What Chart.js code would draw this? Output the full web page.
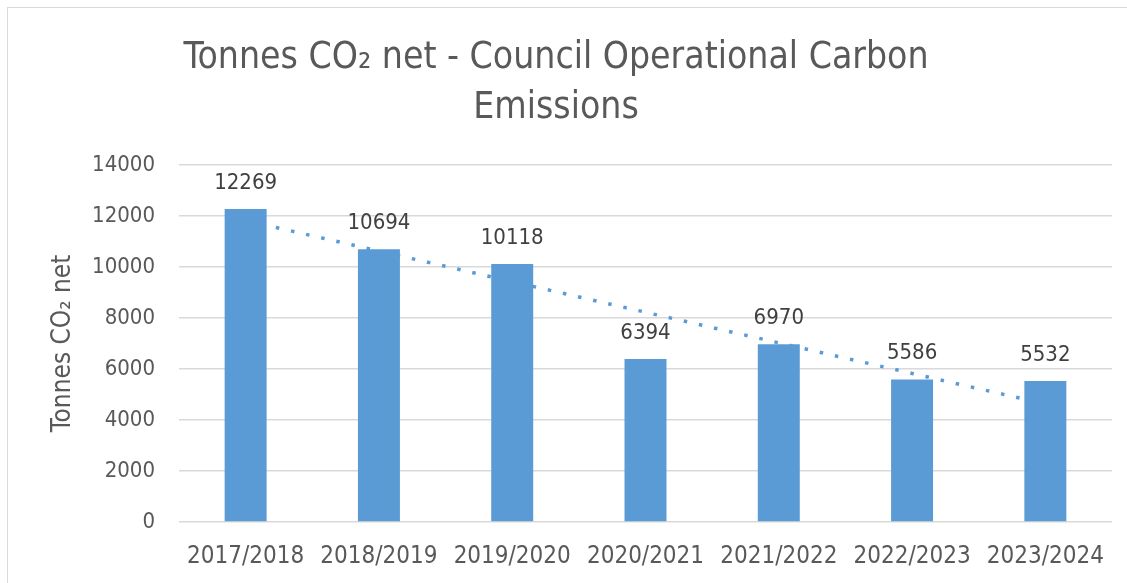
<!DOCTYPE html>
<html>
<head>
<meta charset="utf-8">
<script src="https://cdn.jsdelivr.net/npm/chart.js@4/dist/chart.umd.min.js"></script>
<style>
  html, body { margin: 0; padding: 0; background: #fff; }
  #wrap { position: relative; width: 1127px; height: 583px; }
  #frame { position: absolute; left: 7px; top: 7px; right: -2px; bottom: -2px; border: 1px solid #d9d9d9; }
  canvas { position: absolute; left: 0; top: 0; }
</style>
</head>
<body>
<div id="wrap">
  <div id="frame"></div>
  <canvas id="emissionsChart" width="1127" height="583"></canvas>
</div>
<script>
const FONT = '"DejaVu Sans Condensed", "Liberation Sans Narrow", "DejaVu Sans", sans-serif';

const years = ['2017/2018', '2018/2019', '2019/2020', '2020/2021', '2021/2022', '2022/2023', '2023/2024'];
const tonnes = [12269, 10694, 10118, 6394, 6970, 5586, 5532];
// dotted trend line
const trend = [11820, 10622, 9423, 8223, 7024, 5825, 4626];
const yTicks = [0, 2000, 4000, 6000, 8000, 10000, 12000, 14000];

// draws the value above each bar
const barValues = {
    id: 'barValues',
    afterDatasetsDraw(chart) {
        const ctx = chart.ctx;
        const meta = chart.getDatasetMeta(0);
        ctx.save();
        ctx.font = '22px ' + FONT;
        ctx.fillStyle = '#404040';
        ctx.textAlign = 'center';
        ctx.textBaseline = 'middle';
        meta.data.forEach(function(bar, i) {
            ctx.fillText(String(tonnes[i]), bar.x, bar.y - 26);
        });
        ctx.restore();
    }
};

new Chart(document.getElementById('emissionsChart'), {
    data: {
        labels: years,
        datasets: [{
            type: 'bar',
            label: 'Tonnes CO₂ net',
            data: tonnes,
            backgroundColor: '#5b9bd5',
            borderWidth: 0,
            categoryPercentage: 1,
            barPercentage: 0.315,
            order: 1
        }, {
            type: 'line',
            label: 'Trend',
            data: trend,
            borderColor: '#5b9bd5',
            borderWidth: 3.5,
            borderDash: [3.5, 12],
            borderCapStyle: 'butt',
            pointRadius: 0,
            fill: false,
            tension: 0,
            order: 2
        }]
    },
    options: {
        responsive: false,
        animation: false,
        layout: {
            padding: { left: 0, right: 15, top: 8, bottom: 0 }
        },
        plugins: {
            legend: { display: false },
            tooltip: { enabled: false },
            title: {
                display: true,
                text: ['Tonnes CO₂ net - Council Operational Carbon', 'Emissions'],
                color: '#595959',
                font: { family: FONT, size: 37, weight: 'normal', lineHeight: 1.35 },
                padding: { top: 25, bottom: 32 }
            }
        },
        scales: {
            x: {
                grid: { display: false, drawTicks: false },
                border: { display: false },
                ticks: {
                    color: '#595959',
                    font: { family: FONT, size: 24 },
                    padding: 20,
                    maxRotation: 0,
                    autoSkip: false
                },
                afterFit: function(scale) { scale.height = 61; }
            },
            y: {
                min: 0,
                max: 14000,
                afterBuildTicks: function(scale) {
                    scale.ticks = yTicks.map(function(v) { return { value: v }; });
                },
                grid: { color: '#d9d9d9', lineWidth: 1.5, drawTicks: false },
                border: { display: false },
                ticks: {
                    color: '#595959',
                    font: { family: FONT, size: 22 },
                    padding: 24,
                    callback: function(value) { return String(value); }
                },
                title: {
                    display: true,
                    text: 'Tonnes CO₂ net',
                    color: '#595959',
                    font: { family: FONT, size: 26 },
                    padding: { top: 48, bottom: 0 }
                },
                afterFit: function(scale) { scale.width = 179; }
            }
        }
    },
    plugins: [barValues]
});
</script>
</body>
</html>
